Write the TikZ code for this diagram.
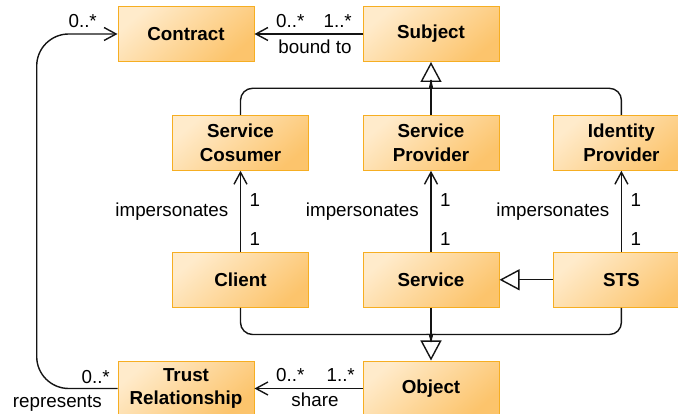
\documentclass[tikz,border=0pt]{standalone}
\usepackage{fontspec}
\setmainfont{Liberation Sans}
\usetikzlibrary{arrows.meta}
\definecolor{boxlight}{HTML}{FFEBCB}
\definecolor{boxdark}{HTML}{FCC46C}
\definecolor{boxline}{HTML}{F6AE22}
\definecolor{ink}{HTML}{141414}

\begin{document}
\begin{tikzpicture}[x=1pt,y=-1pt,
  box/.style={draw=boxline, line width=1pt, top color=boxlight, bottom color=boxdark,
    shading angle=40, minimum width=136pt, minimum height=55pt, inner sep=0pt,
    align=center, text=black, font=\fontsize{18.8}{23.6}\selectfont\bfseries},
  conn/.style={draw=ink, line width=1.4pt},
  assoc/.style={conn, -{Straight Barb[length=12pt, width=13pt, line width=1.4pt]}},
  gen/.style={conn, -{Triangle[open, length=20pt, width=21pt, line width=1.4pt]}},
  lbl/.style={inner sep=0pt, text=black, font=\fontsize{18.8}{22}\selectfont}
]
\useasboundingbox (0,0) rectangle (678,414);

% classes
\node[box] (contract) at (186,34)     {Contract};
\node[box] (subject)  at (431,34)     {Subject};
\node[box] (consumer) at (240.5,142.8) {Service\\Cosumer};
\node[box] (provider) at (431,142.8)  {Service\\Provider};
\node[box] (idp)      at (621.4,142.8) {Identity\\Provider};
\node[box] (client)   at (240.5,279.8) {Client};
\node[box] (service)  at (431,279.8)  {Service};
\node[box] (sts)      at (621.4,279.8) {STS};
\node[box] (trust)    at (186,388.5)  {Trust\\Relationship};
\node[box] (object)   at (431,388.5)  {Object};

% junction points under the generalization triangles
\coordinate (subjbase) at (431,80);
\coordinate (objbase)  at (431,342);
\coordinate (loopleft) at (36.7,200);

% associations
\draw[assoc] (subject.west) -- (contract.east);
\draw[assoc, rounded corners=32pt] (trust.west) -| (loopleft) |- (contract.west);
\draw[assoc] (object.west) -- (trust.east);
\draw[assoc] (client.north) -- (consumer.south);
\draw[assoc] (service.north) -- (provider.south);
\draw[assoc] (sts.north) -- (idp.south);

% generalizations to Subject
\draw[gen] (provider.north) -- (subject.south);
\draw[conn, rounded corners=12pt] (consumer.north) |- (419,88.3)
  [sharp corners] .. controls (428,88.3) and (431,86) .. (subjbase);
\draw[conn, rounded corners=12pt] (idp.north) |- (443,88.3)
  [sharp corners] .. controls (434,88.3) and (431,86) .. (subjbase);

% generalizations to Object
\draw[gen] (service.south) -- (object.north);
\draw[conn, rounded corners=12pt] (client.south) |- (419,334.5)
  [sharp corners] .. controls (428,334.5) and (431,336.5) .. (objbase);
\draw[conn, rounded corners=12pt] (sts.south) |- (443,334.5)
  [sharp corners] .. controls (434,334.5) and (431,336.5) .. (objbase);

% STS is a Service
\draw[gen] (sts.west) -- (service.east);

% labels: bound to
\node[lbl, anchor=base west] (bt0) at (276,28) {0..*};
\node[lbl, anchor=base east] (bt1) at (352,28) {1..*};
\node[lbl, anchor=base] (btl) at (315,53.3) {bound to};

% labels: represents
\node[lbl, anchor=base east] (rp0) at (97,28) {0..*};
\node[lbl, anchor=base east] (rp1) at (110,383.3) {0..*};
\node[lbl, anchor=base east] (rpl) at (102,407) {represents};

% labels: share
\node[lbl, anchor=base west] (sh0) at (276,381.7) {0..*};
\node[lbl, anchor=base east] (sh1) at (355,381.7) {1..*};
\node[lbl, anchor=base] (shl) at (315,406.7) {share};

% labels: impersonates
\foreach \cx/\nm in {240.5/a, 431/b, 621.4/c} {
  \node[lbl, anchor=base west] (imtop\nm) at (\cx+9,207) {1};
  \node[lbl, anchor=base west] (imbot\nm) at (\cx+9,246) {1};
  \node[lbl, anchor=base east] (iml\nm) at (\cx-12,217) {impersonates};
}
\end{tikzpicture}
\end{document}
